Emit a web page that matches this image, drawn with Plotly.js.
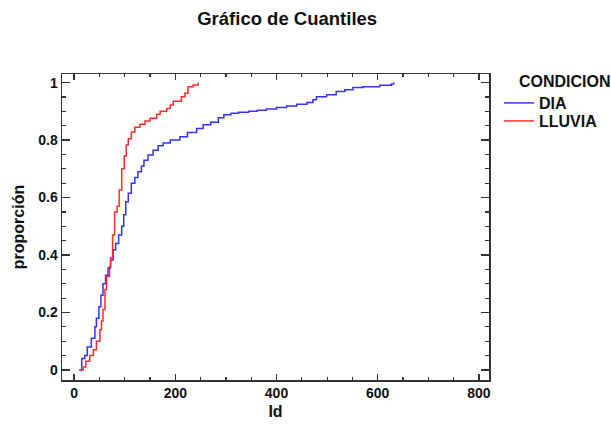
<!DOCTYPE html>
<html>
<head>
<meta charset="utf-8">
<script src="https://cdn.plot.ly/plotly-3.0.1.min.js"></script>
<style>html,body{margin:0;padding:0;background:#fff;}#chart{width:611px;height:425px;}</style>
</head>
<body>
<div id="chart"></div>
<script>
// DIA series (Id, cumulative proportion)
const diaId = [10,15,21,26,34,41,44,49,53,57,62,67,72,77,82,88,94,98,102,107,113,120,126,133,138,146,156,166,176,190,209,224,242,255,270,285,296,310,325,345,362,380,400,420,440,460,472,479,499,518,535,551,571,604,627,632];
const diaProp = [0,0.04,0.05,0.08,0.11,0.15,0.18,0.22,0.26,0.30,0.33,0.355,0.383,0.418,0.44,0.47,0.50,0.54,0.585,0.615,0.65,0.67,0.69,0.71,0.73,0.748,0.765,0.78,0.79,0.80,0.812,0.826,0.84,0.853,0.862,0.878,0.888,0.893,0.897,0.90,0.904,0.908,0.913,0.919,0.925,0.931,0.94,0.951,0.958,0.969,0.975,0.983,0.986,0.991,0.995,1.0];
// LLUVIA series
const lluviaId = [10,18,23,31,38,44,51,54,57,61,64,70,72,76,80,85,89,94,99,103,107,113,120,130,140,150,163,170,183,190,196,212,219,225,235,245];
const lluviaProp = [0,0.01,0.03,0.05,0.07,0.10,0.14,0.17,0.21,0.28,0.325,0.36,0.39,0.47,0.55,0.57,0.626,0.70,0.745,0.783,0.805,0.828,0.845,0.855,0.866,0.876,0.89,0.90,0.91,0.922,0.935,0.951,0.963,0.986,0.992,1.0];
const seriesNames = ["DIA", "LLUVIA"];
const legendTitle = "CONDICION";
const xTicks = [0,200,400,600,800];
const yTicks = [0,0.2,0.4,0.6,0.8,1];
const yTickText = ["0","0.2","0.4","0.6","0.8","1"];

const F = "Liberation Sans, Arial, sans-serif";
const traces = [
  {x: diaId, y: diaProp, name: seriesNames[0], legend: "legend", mode: "lines", line: {color: "#3333ff", width: 1.5, shape: "hv"}},
  {x: lluviaId, y: lluviaProp, name: seriesNames[1], legend: "legend2", mode: "lines", line: {color: "#ff2a2a", width: 1.5, shape: "hv"}}
];
const axisCommon = {
  showline: true, linecolor: "#333", linewidth: 1.5, mirror: "ticks",
  ticks: "inside", tickcolor: "#333", tickwidth: 1.3,
  showgrid: false, zeroline: false,
  tickfont: {family: F, size: 14, color: "#111", weight: "bold"}
};
const legendFont = {family: F, size: 16, color: "#111", weight: "bold"};
const layout = {
  width: 611, height: 425,
  margin: {l: 62, r: 122, t: 74, b: 45},
  paper_bgcolor: "#fff", plot_bgcolor: "#fff",
  title: {text: "Gráfico de Cuantiles", x: 0.47, xanchor: "center", y: 0.957, yanchor: "middle",
          font: {family: F, size: 18.5, color: "#111", weight: "bold"}},
  xaxis: Object.assign({}, axisCommon, {
    range: [-24, 820], tickvals: xTicks, ticklen: 6,
    minor: {dtick: 50, tick0: 0, ticks: "inside", ticklen: 3, tickcolor: "#333", tickwidth: 1.2},
    title: {text: "Id", standoff: 5, font: {family: F, size: 16, color: "#111", weight: "bold"}}
  }),
  yaxis: Object.assign({}, axisCommon, {
    range: [-0.035, 1.03], tickvals: yTicks, ticktext: yTickText, ticklen: 8,
    minor: {dtick: 0.05, tick0: 0, ticks: "inside", ticklen: 4, tickcolor: "#333", tickwidth: 1.2},
    title: {text: "proporción", standoff: 9, font: {family: F, size: 16, color: "#111", weight: "bold"}}
  }),
  legend: {
    xref: "container", yref: "container",
    x: 0.8167, xanchor: "left", y: 0.7576, yanchor: "middle",
    font: legendFont, itemwidth: 30, bgcolor: "rgba(0,0,0,0)"
  },
  legend2: {
    xref: "container", yref: "container",
    x: 0.8167, xanchor: "left", y: 0.7153, yanchor: "middle",
    font: legendFont, itemwidth: 30, bgcolor: "rgba(0,0,0,0)"
  },
  annotations: [{
    text: legendTitle, xref: "paper", yref: "paper", x: 1.0656, y: 0.974,
    xanchor: "left", yanchor: "middle", showarrow: false,
    font: {family: F, size: 16, color: "#111", weight: "bold"}
  }],
  showlegend: true
};
Plotly.newPlot("chart", traces, layout, {displayModeBar: false, staticPlot: true});
</script>
</body>
</html>
